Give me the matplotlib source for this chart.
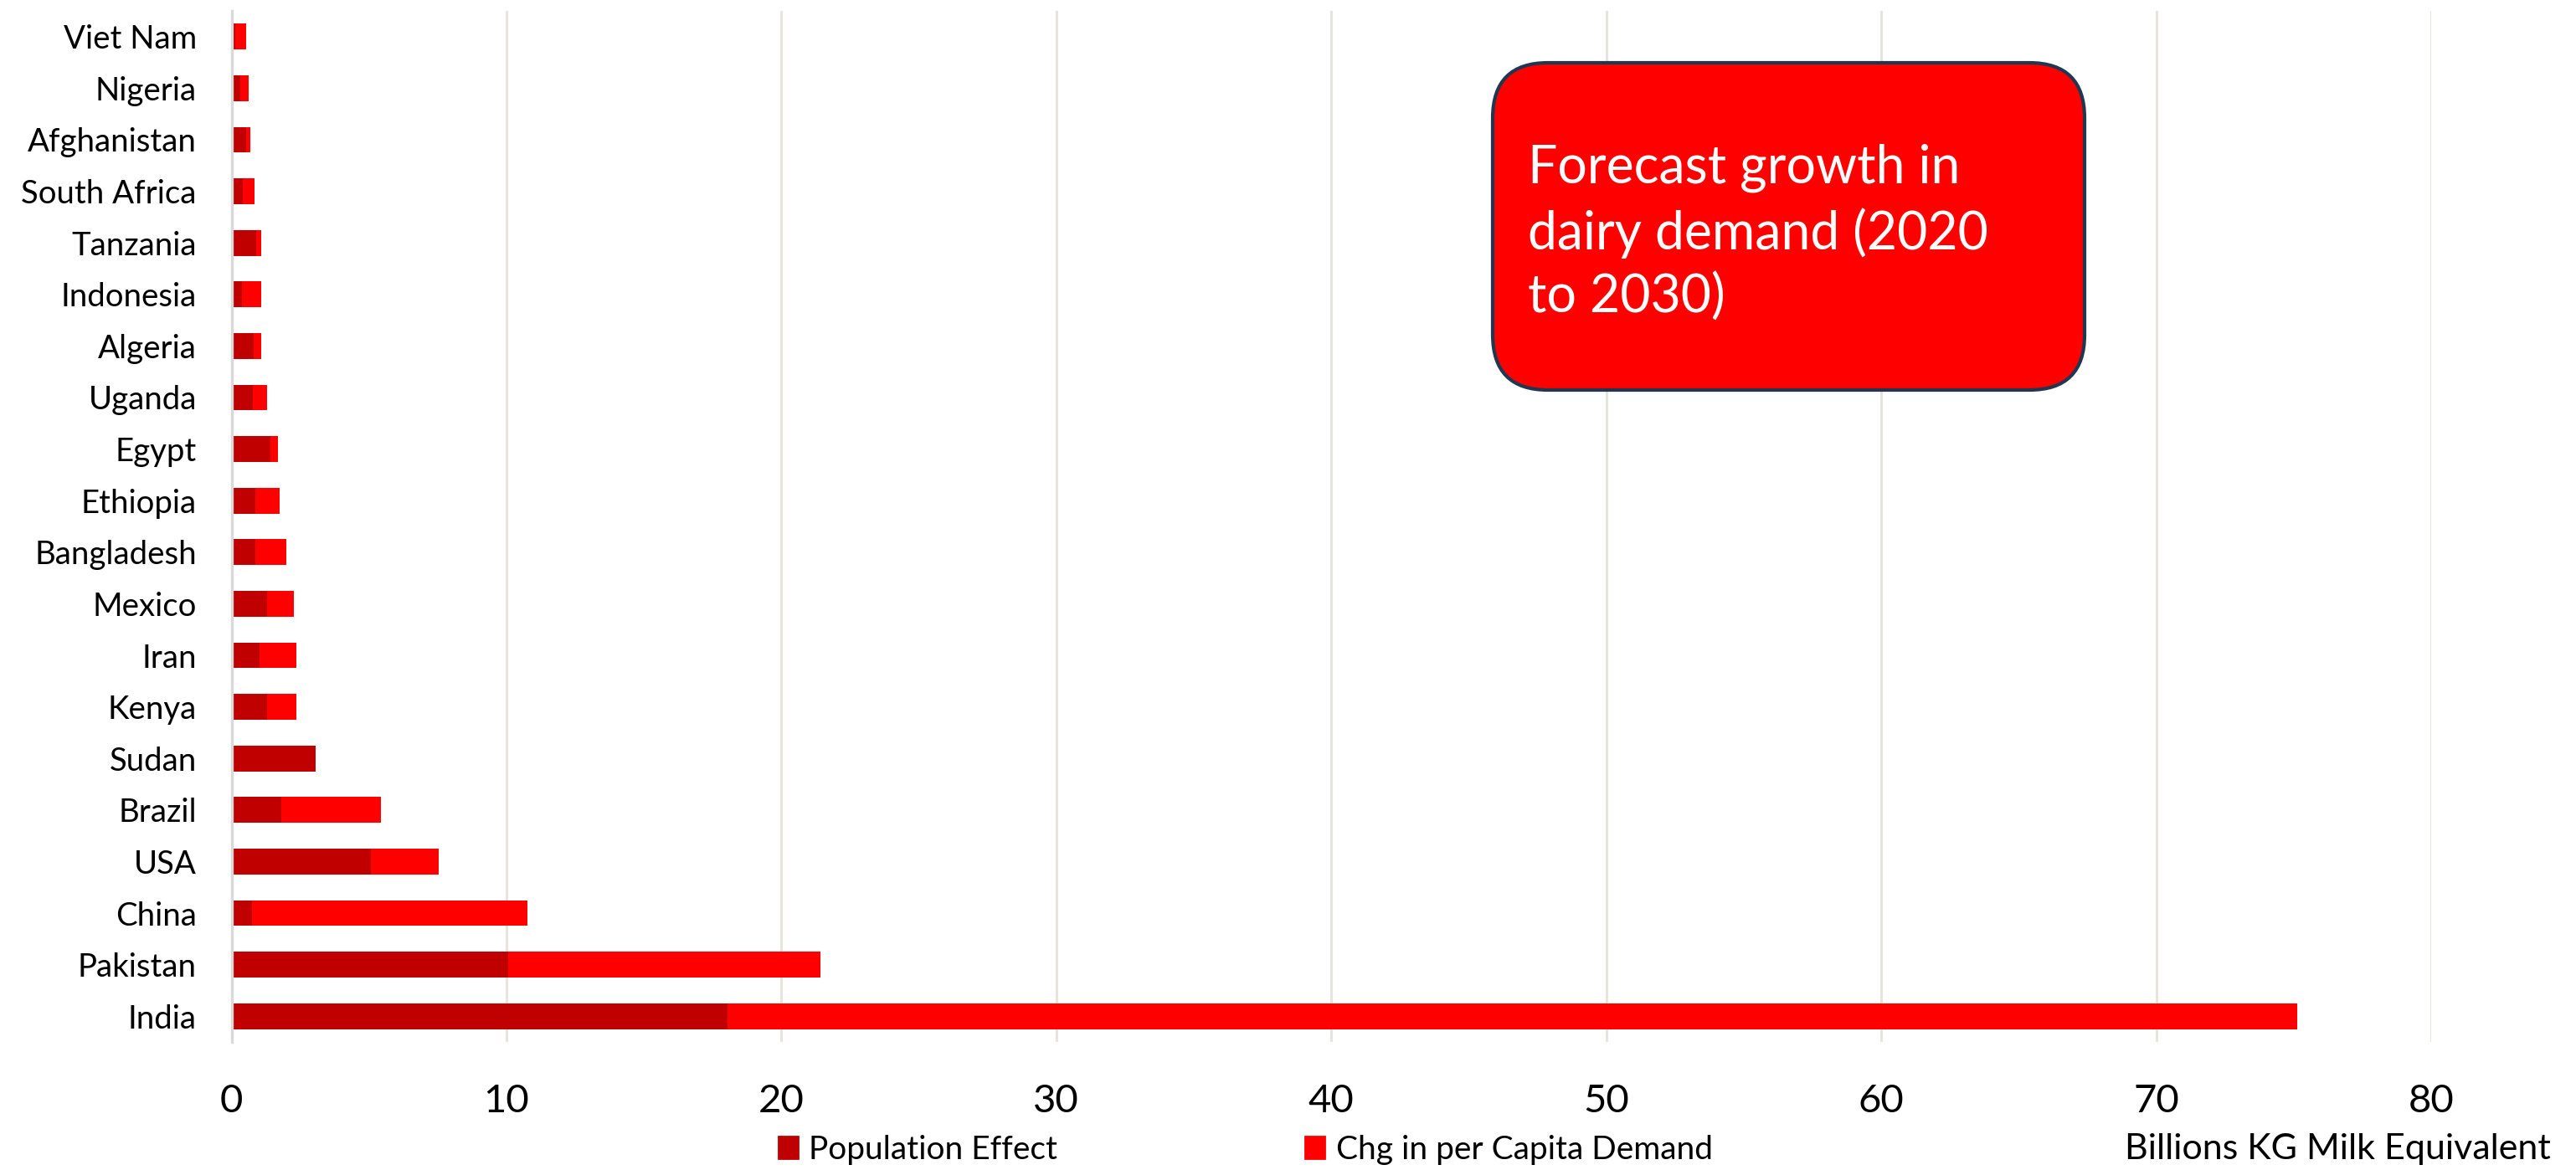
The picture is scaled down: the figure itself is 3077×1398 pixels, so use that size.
import matplotlib.pyplot as plt
from matplotlib.patches import FancyBboxPatch, Patch
import numpy as np

plt.rcParams['font.family'] = ['Lato', 'DejaVu Sans']

# Data, bottom to top (Billions KG milk equivalent)
countries = ['India', 'Pakistan', 'China', 'USA', 'Brazil', 'Sudan', 'Kenya', 'Iran',
             'Mexico', 'Bangladesh', 'Ethiopia', 'Egypt', 'Uganda', 'Algeria',
             'Indonesia', 'Tanzania', 'South Africa', 'Afghanistan', 'Nigeria', 'Viet Nam']
population_effect = [18.05, 10.07, 0.76, 5.08, 1.82, 3.07, 1.30, 1.03, 1.30, 0.86,
                     0.87, 1.42, 0.79, 0.82, 0.39, 0.90, 0.41, 0.53, 0.32, 0.15]
per_capita_chg = [57.07, 11.36, 9.99, 2.45, 3.63, 0.0, 1.06, 1.33, 0.98, 1.12,
                  0.88, 0.27, 0.49, 0.27, 0.70, 0.17, 0.42, 0.15, 0.31, 0.37]

dark_red = '#C00000'
red = '#FF0000'

dpi = 200
fig = plt.figure(figsize=(3077 / dpi, 1398 / dpi), dpi=dpi)
ax = fig.add_axes([276.5 / 3077, 1 - 1245 / 1398, (2904 - 276.5) / 3077, (1245 - 13) / 1398])

y = np.arange(len(countries))
ax.barh(y, population_effect, height=0.5, color=dark_red, label='Population Effect')
ax.barh(y, per_capita_chg, height=0.5, left=population_effect, color=red,
        label='Chg in per Capita Demand')

ax.set_xlim(0, 80)
ax.set_ylim(-0.5, len(countries) - 0.5)
ax.set_xticks(np.arange(0, 81, 10))
ax.set_yticks(y)
ax.set_yticklabels(countries)
ax.tick_params(axis='x', length=0, labelsize=17, pad=18)
ax.tick_params(axis='y', length=0, labelsize=13.8, pad=15)
ax.grid(axis='x', color='#E6E4DC', linewidth=1.1)
ax.set_axisbelow(True)
for s in ['top', 'right', 'bottom']:
    ax.spines[s].set_visible(False)
ax.spines['left'].set_color('#D9D9D9')
ax.spines['left'].set_linewidth(1.2)

# annotation box (drawn in inches so the corners stay round)
box = FancyBboxPatch((1783 / dpi, (1398 - 466) / dpi), 707 / dpi, 391 / dpi,
                     boxstyle='round,pad=0,rounding_size=0.33',
                     transform=fig.dpi_scale_trans, facecolor=red,
                     edgecolor='#203751', linewidth=1.5, zorder=5)
fig.patches.append(box)
fig.text(1825 / dpi, (1398 - 172) / dpi, 'Forecast growth in\ndairy demand (2020\nto 2030)',
         transform=fig.dpi_scale_trans, color='white', fontsize=22.5, ha='left', va='top',
         linespacing=1.35, zorder=6)

handles = [Patch(color=dark_red), Patch(color=red)]
fig.legend(handles, ['Population Effect', 'Chg in per Capita Demand'], loc='center',
           bbox_to_anchor=(0.4835, 0.0172), ncol=2, frameon=False, fontsize=14,
           handlelength=0.6, handleheight=0.66, handletextpad=0.35, columnspacing=7.6)

fig.text(3047 / 3077, 1 - 1385 / 1398, 'Billions KG Milk Equivalent', ha='right',
         va='baseline', fontsize=15.5)

fig.savefig('out.png', dpi=dpi)
